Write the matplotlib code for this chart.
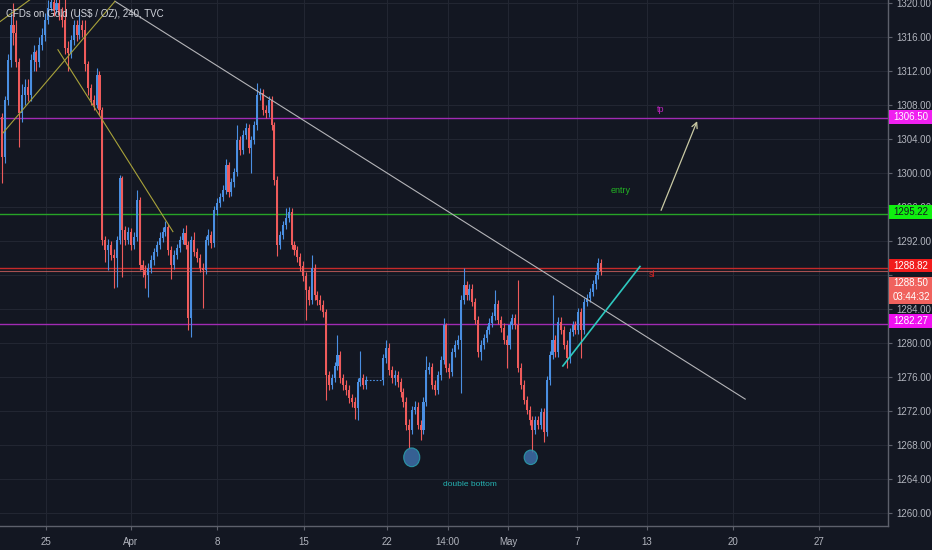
import numpy as np
import matplotlib
matplotlib.use("Agg")
import matplotlib.pyplot as plt
import matplotlib.transforms as mtransforms
from matplotlib import font_manager
from matplotlib.patches import Rectangle, Ellipse

# 4h candles of gold, bar 0 = first bar of Mon 25 Mar, None = no trading
first_bar = -15
first_open = 1306.6
closes = [
    1301.9, 1308.6, 1313.3, 1317.4, 1316.5, 1313.1, 1307.1, 1309.2, 1310.1, 1309.2,
    1313.3, 1314.2, 1313.1, 1315.1, 1316.2, 1318.0, 1319.4, 1320.1, 1319.2, 1320.0,
    1318.6, 1318.0, 1314.7, 1314.1, 1315.6, 1317.4, 1316.2, 1317.4, 1316.8, 1312.8,
    1310.0, 1308.6, 1308.0, 1311.5, 1307.4, 1292.1, 1290.9, 1291.5, 1290.4, 1290.0,
    1292.1, 1299.4, 1293.3, 1292.1, 1293.1, 1291.5, 1292.5, 1296.8, 1289.2, 1288.6,
    1288.0, 1288.8, 1289.8, 1290.7, 1291.5, 1292.4, 1293.1, 1293.6, 1290.9, 1289.2,
    1290.4, 1291.2, 1292.1, 1292.9, 1291.5, 1282.9, 1292.1, 1290.7, 1290.0, 1288.8,
    1288.6, 1292.1, 1292.7, 1291.8, 1295.6, 1296.5, 1297.2, 1298.0, 1300.9, 1297.8,
    1298.9, 1300.1, 1303.9, 1302.7, 1304.5, 1305.3, 1302.9, 1303.9, 1305.6, 1309.2,
    1309.4, 1307.4, 1307.1, 1308.6, 1305.6, 1299.2, 1291.5, 1292.7, 1293.9, 1294.7,
    1295.4, 1291.5, 1290.9, 1290.1, 1289.1, 1287.9, 1286.2, 1285.1, 1288.8, 1285.6,
    1285.1, 1284.5, 1283.6, 1276.2, 1275.1, 1275.9, 1277.3, 1278.6, 1275.9, 1275.1,
    1274.5, 1273.5, 1273.1, 1272.4, 1275.4, 1275.9, 1275.1, 1275.6, None, None,
    None, None, None, 1278.2, 1279.4, 1276.8, 1275.9, 1276.2, 1275.4, 1274.2,
    1273.1, 1270.4, 1269.8, 1272.1, 1272.5, 1270.4, 1269.8, 1273.1, 1276.8, 1277.2,
    1275.1, 1274.5, 1276.2, 1278.0, 1282.1, 1277.1, 1276.6, 1278.9, 1279.8, 1280.4,
    1285.1, 1286.8, 1285.6, 1286.4, 1284.8, 1282.7, 1278.9, 1279.8, 1280.6, 1281.5,
    1282.4, 1283.2, 1284.6, 1282.7, 1281.8, 1280.4, 1279.8, 1282.1, 1282.9, 1282.1,
    1277.1, 1275.1, 1273.3, 1272.1, 1270.9, 1269.8, 1270.9, 1270.4, 1271.9, 1269.5,
    1275.6, 1278.6, 1280.4, 1278.9, 1282.5, 1281.5, 1279.8, 1278.2, 1281.3, 1282.1,
    1281.5, 1283.6, 1281.5, 1284.8, 1285.3, 1286.0, 1286.9, 1288.0, 1289.4, 1288.5,
]
highs = [
    1307.0, 1309.0, 1314.0, 1319.0, 1320.0, 1318.0, 1313.5, 1310.5, 1311.0, 1311.0,
    1314.0, 1315.0, 1314.5, 1316.0, 1317.0, 1318.8, 1320.4, 1321.0, 1320.8, 1321.0,
    1320.6, 1319.5, 1320.5, 1315.5, 1316.2, 1318.0, 1318.0, 1319.0, 1318.0, 1318.0,
    1313.2, 1310.5, 1309.2, 1312.3, 1312.0, 1307.8, 1292.6, 1292.2, 1292.0, 1291.0,
    1292.6, 1299.8, 1299.6, 1293.8, 1293.6, 1293.5, 1293.0, 1298.0, 1297.2, 1289.8,
    1289.2, 1289.4, 1290.3, 1291.2, 1292.0, 1293.0, 1293.6, 1294.3, 1294.0, 1291.4,
    1290.9, 1291.7, 1292.6, 1293.5, 1293.9, 1292.0, 1292.6, 1293.0, 1291.2, 1290.5,
    1289.4, 1292.6, 1293.4, 1293.2, 1296.1, 1297.0, 1297.7, 1298.6, 1301.6, 1301.3,
    1299.4, 1300.6, 1305.6, 1304.4, 1305.0, 1305.9, 1305.8, 1304.4, 1306.1, 1310.6,
    1310.0, 1309.9, 1308.0, 1309.1, 1309.0, 1306.0, 1299.6, 1293.2, 1294.4, 1295.9,
    1296.0, 1295.9, 1292.0, 1291.4, 1290.6, 1289.6, 1288.4, 1286.7, 1290.4, 1289.3,
    1286.1, 1285.6, 1285.0, 1284.0, 1276.7, 1276.4, 1277.8, 1280.9, 1279.1, 1276.4,
    1275.6, 1275.0, 1274.0, 1273.6, 1275.9, 1279.0, 1276.4, 1276.1, None, None,
    None, None, None, 1278.7, 1280.4, 1280.0, 1277.3, 1276.8, 1276.7, 1275.9,
    1274.7, 1273.6, 1271.0, 1272.6, 1273.2, 1273.0, 1270.9, 1273.6, 1278.5, 1277.8,
    1277.7, 1275.6, 1276.7, 1278.5, 1282.9, 1282.3, 1277.6, 1279.4, 1280.3, 1280.9,
    1285.6, 1288.8, 1287.3, 1286.9, 1286.9, 1285.3, 1283.2, 1280.3, 1281.1, 1282.0,
    1282.9, 1283.7, 1286.2, 1285.1, 1283.2, 1282.3, 1280.9, 1282.6, 1283.4, 1283.4,
    1287.4, 1277.6, 1275.6, 1273.8, 1272.6, 1271.4, 1271.4, 1271.4, 1272.4, 1272.4,
    1276.1, 1279.1, 1285.6, 1280.9, 1283.0, 1283.0, 1282.0, 1280.3, 1281.8, 1282.6,
    1282.6, 1284.1, 1284.1, 1285.3, 1285.8, 1286.5, 1287.4, 1288.5, 1290.0, 1289.9,
]
lows = [
    1298.8, 1301.2, 1308.0, 1312.5, 1315.0, 1312.5, 1303.0, 1306.0, 1308.0, 1308.5,
    1308.5, 1312.0, 1312.0, 1312.5, 1314.5, 1315.5, 1317.5, 1319.0, 1318.5, 1318.8,
    1318.0, 1317.2, 1314.0, 1312.0, 1313.5, 1315.0, 1315.5, 1315.8, 1316.0, 1312.0,
    1309.2, 1308.0, 1307.4, 1307.6, 1306.8, 1291.5, 1289.5, 1288.6, 1289.8, 1286.5,
    1286.6, 1291.6, 1287.8, 1291.5, 1291.6, 1290.9, 1291.0, 1292.0, 1288.6, 1287.8,
    1286.5, 1285.4, 1288.2, 1289.2, 1290.2, 1291.0, 1291.9, 1292.6, 1290.4, 1287.5,
    1288.7, 1289.9, 1290.7, 1291.6, 1291.0, 1281.5, 1280.7, 1290.2, 1289.5, 1288.3,
    1284.1, 1288.1, 1291.5, 1291.2, 1291.3, 1295.0, 1296.0, 1296.7, 1297.5, 1297.2,
    1297.3, 1298.4, 1299.6, 1302.1, 1302.2, 1304.0, 1302.3, 1300.0, 1303.4, 1305.1,
    1308.6, 1306.8, 1306.5, 1306.6, 1305.0, 1298.6, 1290.2, 1291.0, 1292.2, 1293.4,
    1294.2, 1291.0, 1290.3, 1289.5, 1288.5, 1287.3, 1282.7, 1284.5, 1284.6, 1285.0,
    1284.5, 1283.9, 1283.0, 1273.3, 1274.5, 1274.6, 1275.4, 1276.8, 1275.3, 1274.5,
    1273.9, 1272.9, 1272.5, 1271.0, 1270.9, 1274.9, 1274.6, 1274.6, None, None,
    None, None, None, 1275.1, 1277.7, 1276.2, 1275.3, 1275.0, 1274.8, 1273.7,
    1272.5, 1269.8, 1267.6, 1269.3, 1271.6, 1269.9, 1268.6, 1269.3, 1272.6, 1276.3,
    1274.6, 1273.9, 1274.0, 1275.7, 1277.5, 1276.6, 1275.9, 1276.1, 1278.4, 1279.3,
    1274.1, 1284.6, 1285.1, 1285.1, 1284.3, 1282.2, 1278.3, 1278.0, 1279.3, 1280.1,
    1281.0, 1281.9, 1282.7, 1282.2, 1281.3, 1279.9, 1277.0, 1279.3, 1281.6, 1281.6,
    1276.6, 1274.6, 1272.8, 1271.6, 1270.4, 1267.2, 1269.3, 1269.9, 1269.9, 1268.4,
    1269.0, 1275.1, 1278.1, 1278.4, 1278.4, 1281.0, 1279.3, 1277.0, 1277.7, 1280.8,
    1281.0, 1281.0, 1278.2, 1281.0, 1284.3, 1284.8, 1285.5, 1286.4, 1287.5, 1288.0,
]

date_ticks = [0.3, 29.9, 60.0, 90.3, 119.3, 140.5, 161.5, 185.5, 209.9, 240.0, 270.0]
date_labels = ['25', 'Apr', '8', '15', '22', '14:00', 'May', '7', '13', '20', '27']
price_ticks = [1260, 1264, 1268, 1272, 1276, 1280, 1284, 1288, 1292, 1296,
               1300, 1304, 1308, 1312, 1316, 1320]
hidden_ticks = [1288]  # sits fully under the price badges

# horizontal levels drawn on the chart
levels = [1306.50, 1295.22, 1288.82, 1282.27]
level_colors = ['#a12bb3', '#27a327', '#c62a2a', '#a12bb3']
last_price = 1288.50

# trend lines (bar, price) pairs
grey_trend = [(24.4, 1320.2), (244.2, 1273.4)]
yellow_up = [(-14.7, 1304.7), (24.4, 1320.2)]
yellow_top = [(-15.7, 1317.8), (-5.2, 1320.4)]
yellow_down = [(4.5, 1314.5), (44.6, 1293.1)]
cyan_support = [(180.6, 1277.3), (207.5, 1289.0)]
tp_arrow = [(214.5, 1295.3), (227.8, 1306.4)]

# double bottom markers (bar, price, width in bars, height in price)
bottoms = [(127.9, 1266.55, 5.6, 2.2), (169.4, 1266.55, 4.6, 1.7)]

bg = '#131722'
up_col = '#4a8fe2'
down_col = '#ef5b5b'
axis_text = '#b2b5be'

available = {f.name for f in font_manager.fontManager.ttflist}
base_font = 'Liberation Sans' if 'Liberation Sans' in available else 'DejaVu Sans'
fs = 7.0 if base_font == 'Liberation Sans' else 6.2
plt.rcParams['font.family'] = [base_font, 'DejaVu Sans']

fig = plt.figure(figsize=(9.32, 5.5), dpi=100, facecolor=bg)
ax = fig.add_axes([0, 24 / 550, 888 / 932, 526 / 550])
ax.set_facecolor(bg)
ax.set_xlim(-15.7, 294.0)
ax.set_ylim(1258.47, 1320.35)

# candles
xs, o_list, h_list, l_list, c_list = [], [], [], [], []
prev = first_open
for k, c in enumerate(closes):
    if c is None:
        continue
    xs.append(first_bar + k)
    o_list.append(prev)
    h_list.append(highs[k])
    l_list.append(lows[k])
    c_list.append(c)
    prev = c
xs = np.array(xs)
o_arr = np.array(o_list)
c_arr = np.array(c_list)
cols = np.where(c_arr >= o_arr, up_col, down_col)
body_lo = np.minimum(o_arr, c_arr)
body_h = np.maximum(np.abs(c_arr - o_arr), 0.15)
ax.vlines(xs, l_list, h_list, colors=cols, lw=0.8, zorder=3)
ax.bar(xs, body_h, bottom=body_lo, width=0.72, color=cols, lw=0, zorder=4)

# dotted join across the holiday gap
gap_start = first_bar + closes.index(None) - 1
gap_end = gap_start + 6
ax.plot([gap_start, gap_end], [closes[gap_start - first_bar]] * 2,
        ls=(0, (1.5, 1.5)), color=up_col, lw=0.8, zorder=3)

# levels
for lv, lc in zip(levels, level_colors):
    ax.axhline(lv, color=lc, lw=1.0, zorder=2)
ax.axhline(last_price, color='#e86a66', lw=0.8, alpha=0.7, zorder=2)

# drawings
def seg(pts, **kw):
    ax.plot([p[0] for p in pts], [p[1] for p in pts], **kw)

seg(grey_trend, color='#b4b4b8', lw=0.8, zorder=5)
seg(yellow_up, color='#a8a23a', lw=0.8, zorder=5)
seg(yellow_top, color='#a8a23a', lw=0.8, zorder=5)
seg(yellow_down, color='#a8a23a', lw=0.8, zorder=5)
seg(cyan_support, color='#2ec9c0', lw=1.2, zorder=5)
ax.annotate('', xy=tp_arrow[1], xytext=tp_arrow[0],
            arrowprops=dict(arrowstyle='->', color='#c9c9a4', lw=0.9,
                            mutation_scale=10), zorder=5)

for bx, by, bw, bh in bottoms:
    ax.add_patch(Ellipse((bx, by), bw, bh, facecolor='#3d6ea8', alpha=0.85,
                         edgecolor='#2aa3b0', lw=0.8, zorder=6))

ax.text(214.8, 1307.5, 'tp', color='#c223c2', fontsize=fs - 0.5, ha='center', va='center')
ax.text(200.6, 1297.9, 'entry', color='#22b522', fontsize=fs - 0.5, ha='center', va='center')
ax.text(211.6, 1288.1, 'sl', color='#d02424', fontsize=fs - 0.5, ha='center', va='center')
ax.text(148.2, 1263.4, 'double bottom', color='#25b3b3', fontsize=fs - 1,
        ha='center', va='center')

ax.text(0.007, 0.973, 'CFDs on Gold (US$ / OZ), 240, TVC', transform=ax.transAxes,
        color='#d1d4dc', fontsize=fs, ha='left', va='center', zorder=7)

# axes styling
ax.yaxis.tick_right()
ax.set_yticks(price_ticks)
ax.set_yticklabels(['' if p in hidden_ticks else f'{p:.2f}' for p in price_ticks])
ax.set_xticks(date_ticks)
ax.set_xticklabels(date_labels)
ax.tick_params(axis='y', color='#5d606b', labelcolor=axis_text, length=3, pad=3,
               labelsize=fs)
ax.tick_params(axis='x', color='#5d606b', labelcolor=axis_text, length=3, pad=5,
               labelsize=fs)
for side in ['top', 'left']:
    ax.spines[side].set_visible(False)
for side in ['right', 'bottom']:
    ax.spines[side].set_color('#5d606b')
    ax.spines[side].set_linewidth(1.0)
ax.grid(color='#222632', lw=0.8)
ax.set_axisbelow(True)

# price badges on the right scale
trans = mtransforms.blended_transform_factory(ax.transAxes, ax.transData)
badge_w = 44 / 888

def badge(y_lo, y_hi, texts, face, fg):
    ax.add_patch(Rectangle((1.001, y_lo), badge_w, y_hi - y_lo, transform=trans,
                           facecolor=face, edgecolor='none', clip_on=False, zorder=8))
    for ty, t in texts:
        ax.text(1.001 + badge_w / 2, ty, t, transform=trans, color=fg, fontsize=fs,
                ha='center', va='center', clip_on=False, zorder=9)

badge(1305.8, 1307.4, [(1306.6, '1306.50')], '#f020f0', 'white')
badge(1294.6, 1296.2, [(1295.4, '1295.22')], '#10f010', '#131722')
badge(1288.3, 1289.9, [(1289.1, '1288.82')], '#f21c1c', 'white')
badge(1284.55, 1287.8, [(1287.0, '1288.50'), (1285.4, '03:44:32')], '#f0625e', 'white')
badge(1281.8, 1283.4, [(1282.6, '1282.27')], '#f010f0', 'white')

fig.savefig('out.png', dpi=100, facecolor=bg)
